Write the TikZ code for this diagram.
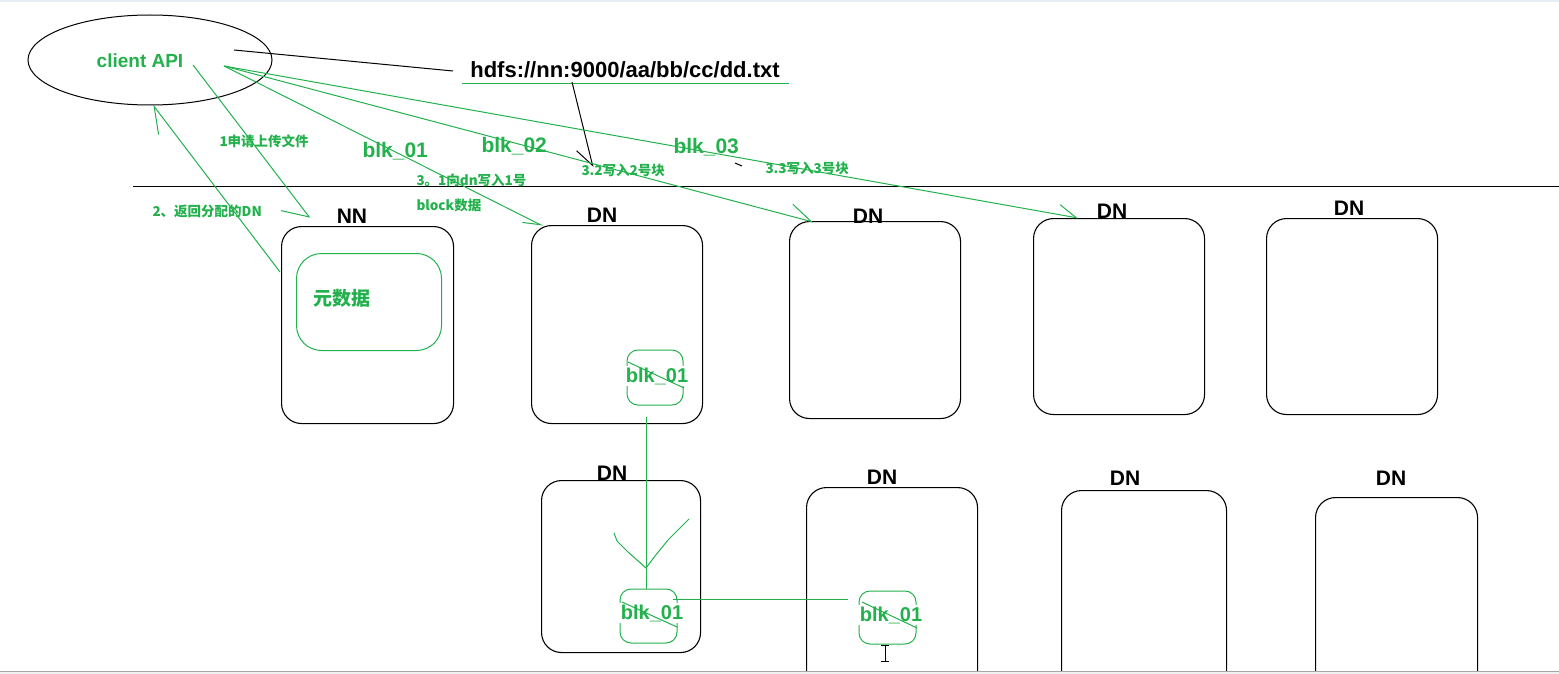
\documentclass[tikz,border=0pt]{standalone}
\usepackage{fontspec}
\setmainfont{Liberation Sans}
\newfontfamily\cjk{Noto Sans CJK SC}
\usetikzlibrary{shapes.geometric,arrows.meta}
\definecolor{paintgreen}{RGB}{34,177,76}
\definecolor{bandgray}{RGB}{232,237,242}

\tikzset{every picture/.style={line width=1pt}}

\begin{document}
\begin{tikzpicture}[x=1pt,y=1pt,yscale=-1,
    box/.style={draw=black,line width=1.1pt,rounded corners=20pt,anchor=north west,inner sep=0pt},
    dnlabel/.style={inner sep=0pt,font=\bfseries\fontsize{21}{21}\selectfont},
    glabel/.style={text=paintgreen,inner sep=0pt,anchor=west,font=\cjk\bfseries\fontsize{13.5}{14}\selectfont},
    blklabel/.style={text=paintgreen,inner sep=0pt,anchor=west,font=\bfseries\fontsize{21}{21}\selectfont},
    blkbox/.style={draw=paintgreen,rounded corners=11pt,inner sep=0pt},
    blktext/.style={text=paintgreen,fill=white,inner sep=2pt,font=\bfseries\fontsize{20}{20}\selectfont},
    gline/.style={draw=paintgreen}]
    \clip (0,0) rectangle (1559,674);
    \fill[white] (0,0) rectangle (1559,674);
    \fill[bandgray] (0,0) rectangle (1559,2.5);

    % client and file name
    \node[draw,ellipse,minimum width=244pt,minimum height=90pt] (client) at (150,60) {};
    \node[text=paintgreen,inner sep=0pt,font=\bfseries\fontsize{19}{19}\selectfont] (clienttext) at (140,61) {client API};
    \coordinate (api) at (224,66);
    \coordinate (apiend) at (193,65);
    \coordinate (apitail) at (234,50);
    \node[inner sep=0pt,font=\bfseries\fontsize{22}{22}\selectfont] (url) at (625,70) {hdfs://nn:9000/aa/bb/cc/dd.txt};
    \draw (apitail) -- (453,71);
    \draw[gline] (462,84) -- (789,84);
    \draw[-{Straight Barb[right,length=18pt,width=24pt]}] (572,82) -- (593,167);
    \draw (735,163) -- (742,166);

    % separator
    \draw (133,187) -- (1559,187);

    % name node
    \node[box,minimum width=172pt,minimum height=197pt] (nn) at (281,226) {};
    \node[draw=paintgreen,rounded corners=25pt,anchor=north west,minimum width=145pt,minimum height=97pt] (meta) at (296,253) {};
    \node[text=paintgreen,anchor=west,inner sep=0pt,font=\cjk\bfseries\fontsize{19}{19}\selectfont] (metatext) at (313,298) {元数据};
    \node[dnlabel] (nnlabel) at (352,216) {NN};

    % data nodes
    \node[box,minimum width=171pt,minimum height=198pt] (dnA) at (531,225) {};
    \node[box,minimum width=171pt,minimum height=197pt] (dnB) at (789,221) {};
    \node[box,minimum width=171pt,minimum height=196pt] (dnC) at (1033,218) {};
    \node[box,minimum width=171pt,minimum height=196pt] (dnD) at (1266,218) {};
    \node[box,minimum width=159pt,minimum height=172pt] (dnE) at (541,480) {};
    \node[box,minimum width=171pt,minimum height=210pt] (dnF) at (806,487) {};
    \node[box,minimum width=165pt,minimum height=210pt] (dnG) at (1061,490) {};
    \node[box,minimum width=162pt,minimum height=210pt] (dnH) at (1315,497) {};
    \node[dnlabel] (labA) at (602,215) {DN};
    \node[dnlabel] (labB) at (868,216) {DN};
    \node[dnlabel] (labC) at (1112,211) {DN};
    \node[dnlabel] (labD) at (1349,208) {DN};
    \node[dnlabel] (labE) at (612,473) {DN};
    \node[dnlabel] (labF) at (882,477) {DN};
    \node[dnlabel] (labG) at (1125,478) {DN};
    \node[dnlabel] (labH) at (1391,478) {DN};

    % requests
    \coordinate (toNN) at (310,218);
    \coordinate (fromNN) at (280,272);
    \coordinate (clientbottom) at (153,105);
    \draw[gline,-{Straight Barb[right,length=22pt,width=37pt]}] (apiend) -- (toNN);
    \draw[gline,-{Straight Barb[left,length=25pt,width=27pt]}] (fromNN) -- (clientbottom);
    \node[glabel] (ask) at (219,141) {1申请上传文件};
    \node[glabel] (answer) at (152,211) {2、返回分配的DN};

    % blocks to data nodes
    \coordinate (toA) at (543,226);
    \coordinate (toB) at (813,222);
    \coordinate (toC) at (1078,218);
    \draw[gline,-{Straight Barb[right,length=17pt,width=12pt]}] (api) -- (toA);
    \draw[gline,-{Straight Barb[left,length=22pt,width=24pt]}] (api) -- (toB);
    \draw[gline,-{Straight Barb[left,length=18pt,width=20pt]}] (api) -- (toC);
    \node[blklabel] (blk1) at (362,151) {blk\_01};
    \node[blklabel] (blk2) at (481,146) {blk\_02};
    \node[blklabel] (blk3) at (673,147) {blk\_03};
    \node[glabel] (write1) at (416,180) {3。1向dn写入1号};
    \node[glabel] (write1b) at (416,205) {block数据};
    \node[glabel] (write2) at (581,170) {3.2写入2号块};
    \node[glabel] (write3) at (765,168) {3.3写入3号块};

    % block copies
    \node[blkbox,minimum width=56pt,minimum height=55pt] (blkA) at (655,377.5) {};
    \node[blktext] (blkAtext) at (657,376) {blk\_01};
    \draw[gline] (628,362) -- (684,388);
    \node[blkbox,minimum width=57pt,minimum height=54pt] (blkB) at (648.5,616) {};
    \node[blktext] (blkBtext) at (652,613) {blk\_01};
    \draw[gline] (622,602) -- (677,627);
    \node[blkbox,minimum width=57pt,minimum height=53pt] (blkC) at (887.5,617.5) {};
    \node[blktext] (blkCtext) at (891,615) {blk\_01};
    \draw[gline] (862,602) -- (917,628);

    % pipeline
    \coordinate (pipetop) at (646,417);
    \coordinate (pipebottom) at (646,589);
    \coordinate (pipetip) at (646,568);
    \draw[gline] (pipetop) -- (pipebottom);
    \draw[gline] (614,533) -- (617,541) -- (628,552) -- (pipetip) -- (655,556) -- (668,540) -- (680,528) -- (689,519);
    \coordinate (passfrom) at (673,599);
    \coordinate (passto) at (848,599);
    \draw[gline] (passfrom) -- (passto);

    % cursor
    \draw (885,645) -- (885,661);
    \draw (881,645) -- (889,645);
    \draw (881,661) -- (889,661);

    % window edge
    \fill[white!94!black] (0,671.5) rectangle (1559,674);
    \draw[white!65!black] (0,671.5) -- (1559,671.5);
\end{tikzpicture}
\end{document}
